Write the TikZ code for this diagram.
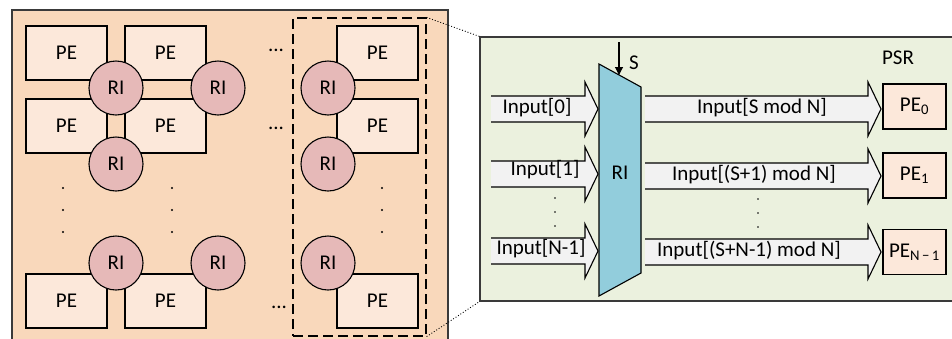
\documentclass[tikz,border=0pt]{standalone}
\usepackage{fontspec}
\setmainfont{Carlito}
\usetikzlibrary{arrows.meta}
\definecolor{grund}{HTML}{F9D8BB}
\definecolor{pefill}{HTML}{FCE8DA}
\definecolor{rifill}{HTML}{E6B9B8}
\definecolor{psrfill}{HTML}{EBF1DE}
\definecolor{muxfill}{HTML}{92CDDC}
\definecolor{pfeil}{HTML}{F2F2F2}
\definecolor{rahmen}{HTML}{3A3A3A}
\tikzset{
  pe/.style={draw=black,fill=pefill,line width=1.1pt,minimum width=81pt,minimum height=54pt,inner sep=0pt},
  ri/.style={circle,draw=black,fill=rifill,line width=1.1pt,minimum size=54pt,inner sep=0pt},
  pes/.style={draw=black,fill=pefill,line width=1.1pt,minimum width=63pt,minimum height=45pt,inner sep=0pt},
  kante/.style={black,line width=1.1pt},
  auswahl/.style={draw=black,line width=1.2pt,dash pattern=on 10pt off 5pt},
  lupe/.style={black,line width=0.9pt,dotted},
}

\begin{document}
\begin{tikzpicture}[x=1pt,y=-1pt,font=\fontsize{21}{25}\selectfont]
  \clip (0,0) rectangle (952,338);
  % PE array
  \draw[rahmen,fill=grund,line width=1.4pt] (12,10) rectangle (448,350);
  \foreach \n/\x/\y in {a/66.5/53, b/165.5/53, c/377.5/53, d/66.5/126, e/165.5/126, f/377.5/126,
                        g/66.5/301, h/165.5/301, i/377.5/301}
    \node[pe] (pe\n) at (\x,\y) {PE};
  \foreach \n/\x/\y in {a/116/88, b/218/88, c/328/88, d/116/164, e/328/164,
                        f/116/263, g/218/263, h/328/263}
    \node[ri] (ri\n) at (\x,\y) {RI};
  \node[anchor=base] (hp1) at (276,51) {...};
  \node[anchor=base] (hp2) at (276,129) {...};
  \node[anchor=base] (hp3) at (279,308) {...};
  \foreach \x in {63,172,382}
    \foreach \y in {188,210,232}
      \fill (\x,\y) circle (1.2pt);
  \node[auswahl,minimum width=133pt,minimum height=318pt] (sel) at (359.5,177) {};

  % PSR
  \node[draw=rahmen,fill=psrfill,line width=1.3pt,minimum width=480pt,minimum height=264pt] (psr) at (720,169) {};
  \draw[lupe] (sel.north east) -- (psr.north west);
  \draw[lupe] (sel.south east) -- (psr.south west);
  \node (psrlab) at (898,58) {PSR};
  \foreach \y/\xa/\xb in {109/491/598, 174/491/598, 251/491/598, 109/645/881, 176/645/881, 252/645/881} {
    \fill[pfeil] (\xa,\y-13) -- (\xb-13,\y-13) -- (\xb-13,\y-27) -- (\xb,\y) -- (\xb-13,\y+27) -- (\xb-13,\y+13) -- (\xa,\y+13) -- cycle;
    \draw[kante] (\xa,\y-13) -- (\xb-13,\y-13) -- (\xb-13,\y-27) -- (\xb,\y) -- (\xb-13,\y+27) -- (\xb-13,\y+13) -- (\xa,\y+13);
  }
  \node (in0) at (537,108) {Input[0]};
  \node (in1) at (545,170) {Input[1]};
  \node (inN) at (541,249) {Input[N-1]};
  \node (out0) at (762,108) {Input[S mod N]};
  \node (out1) at (754,175) {Input[(S+1) mod N]};
  \node (outN) at (749,251) {Input[(S+N-1) mod N]};
  \foreach \y in {198,212,226} {
    \fill (555,\y) circle (0.8pt);
    \fill (758,\y+1) circle (0.8pt);
  }
  \draw[kante,fill=muxfill] (599,64) -- (641,87) -- (641,273) -- (599,296) -- cycle;
  \node (mux) at (620,173) {RI};
  \coordinate (sanf) at (619,42);
  \coordinate (sziel) at (619,75);
  \draw[kante,-{Triangle[length=8pt,width=8pt]}] (sanf) -- (sziel);
  \node (slab) at (634,63) {S};
  \node[pes] (pe0) at (914.5,106.5) {PE\textsubscript{0}};
  \node[pes] (pe1) at (914.5,175.5) {PE\textsubscript{1}};
  \node[pes] (peN) at (914.5,252) {PE\textsubscript{N\,−\,1}};
\end{tikzpicture}
\end{document}
